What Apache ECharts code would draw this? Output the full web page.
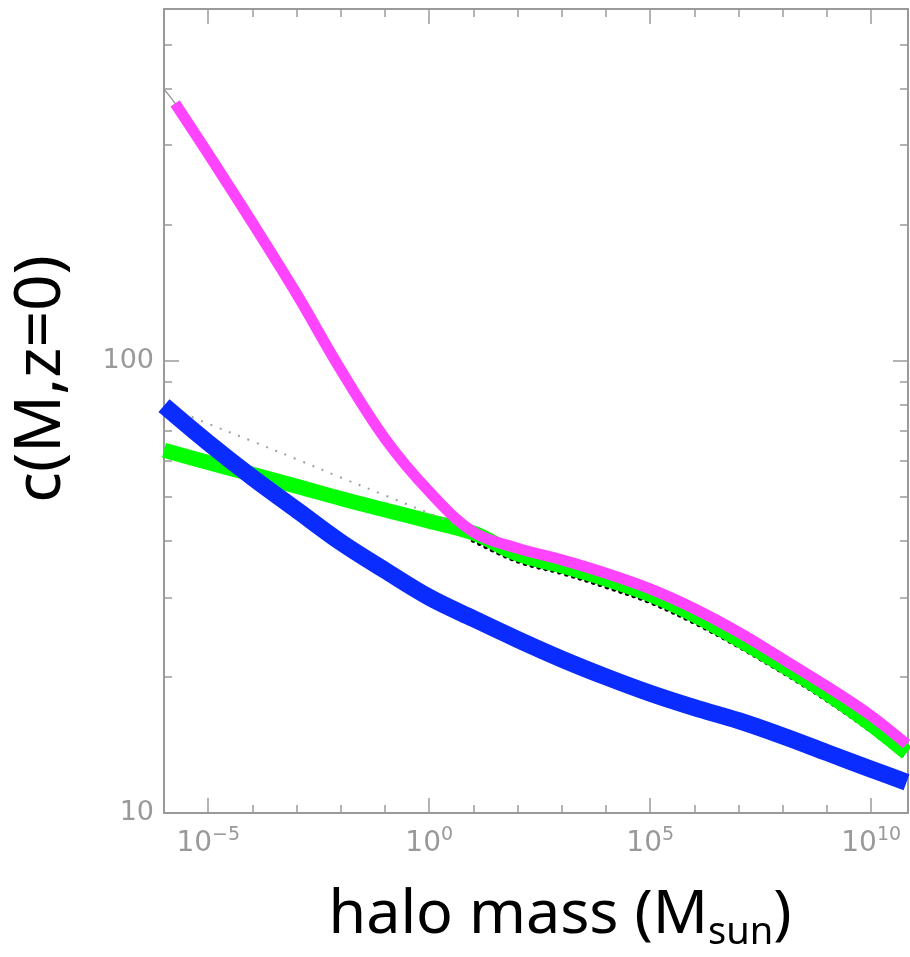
<!DOCTYPE html>
<html>
<head>
<meta charset="utf-8">
<script src="https://cdn.jsdelivr.net/npm/echarts@6/dist/echarts.min.js"></script>
<style>html,body{margin:0;padding:0;background:#fff}#c{width:910px;height:957px}</style>
</head>
<body>
<div id="c"></div>
<script>
// ---- data ----
const mass = [1e-6, 1e-5, 1e-4, 1e-3, 1e-2, 1e-1, 1, 10, 100, 1e3, 1e4, 1e5, 1e6, 1e7, 1e8, 1e9, 1e10, 6.3e10];
const blueC  = [79.6, 65.9, 55.2, 46.8, 39.7, 34.4, 30.0, 26.9, 24.2, 21.9, 20.0, 18.4, 17.1, 16.0, 14.8, 13.6, 12.5, 11.7];
const greenC = [63.4, 59.6, 56.1, 52.8, 49.6, 46.8, 44.2, 41.6, 37.4, 35.2, 32.9, 30.4, 27.4, 24.2, 21.2, 18.4, 15.7, 13.6];

const magentaMass = [1.78e-6, 1e-5, 1e-4, 1e-3, 1e-2, 1e-1, 1, 10, 100, 1e3, 1e4, 1e5, 1e6, 1e7, 1e8, 1e9, 1e10, 6.3e10];
const magentaC    = [371, 287, 202, 140.6, 95.5, 67.3, 51.4, 41.8, 38.5, 36.3, 33.9, 31.3, 28.3, 25.1, 21.9, 19.05, 16.4, 14.2];

const grayTopMass = [1e-6, 1.78e-6, 1e-5, 1e-4, 1e-3, 1e-2];
const grayTopC    = [399, 371, 287, 202, 140.6, 95.5];

const grayDotMass = [1e-6, 1e-5, 1e-4, 1e-3, 1e-2, 1e-1, 1, 10];
const grayDotC    = [79.6, 72.6, 66.4, 60.6, 55.2, 50.4, 46.0, 42.0];

const blackDotMass = [10, 100, 1e3, 1e4, 1e5, 1e6, 1e7, 1e8, 1e9, 1e10, 6.3e10];
const blackDotC    = [40.1, 36.1, 34.0, 31.7, 29.3, 26.4, 23.4, 20.5, 17.8, 15.2, 13.2];

// axis ranges and ticks
const X_MIN = 1e-6, X_MAX = 6.8e10, Y_MIN = 10, Y_MAX = 600;
const xMajorExp = [-5, 0, 5, 10];
const xMinorExp = [-4, -3, -2, -1, 1, 2, 3, 4, 6, 7, 8, 9];
const yMajor = [10, 100];
const yMinor = [20, 30, 40, 50, 60, 70, 80, 90, 200, 300, 400, 500];

const xTitle = '{a|halo mass (M}{s|sun}{a|)}';
const yTitle = 'c(M,z=0)';

// ---- build ----
const AX = '#9a9a9a';
const pairs = (xs, ys) => xs.map((x, i) => [x, ys[i]]);
const lg = v => Math.log10(v);
const supText = e => (e < 0 ? '\u2212' + (-e) : String(e));

function decoX(position, ticks, len, line, label) {
  return {
    type: 'value', gridIndex: 0, position: position,
    min: lg(X_MIN), max: lg(X_MAX),
    axisLine: { show: line, onZero: false, lineStyle: { color: AX, width: 2 } },
    axisTick: { show: true, inside: true, length: len, customValues: ticks, lineStyle: { color: AX, width: 1.5 } },
    axisLabel: label ? {
      show: true, customValues: ticks, margin: 13,
      fontSize: 28, color: '#999', fontFamily: 'DejaVu Sans',
      formatter: v => '{b|10}{s|' + supText(Math.round(v)) + '}',
      rich: {
        b: { fontSize: 28, lineHeight: 36, color: '#999', fontFamily: 'DejaVu Sans' },
        s: { fontSize: 19, lineHeight: 19, color: '#999', fontFamily: 'DejaVu Sans', verticalAlign: 'top' }
      }
    } : { show: false },
    splitLine: { show: false }
  };
}
function decoY(position, ticks, len, line, label) {
  return {
    type: 'value', gridIndex: 0, position: position,
    min: lg(Y_MIN), max: lg(Y_MAX),
    axisLine: { show: line, onZero: false, lineStyle: { color: AX, width: 2 } },
    axisTick: { show: true, inside: true, length: len, customValues: ticks.map(lg), lineStyle: { color: AX, width: 1.5 } },
    axisLabel: label ? {
      show: true, customValues: ticks.map(lg), margin: 10,
      formatter: v => String(Math.round(Math.pow(10, v))),
      fontSize: 27, color: '#999', fontFamily: 'DejaVu Sans'
    } : { show: false },
    splitLine: { show: false }
  };
}

const xAxes = [
  { type: 'log', logBase: 10, min: X_MIN, max: X_MAX, show: false, gridIndex: 0 },
  Object.assign(decoX('bottom', xMajorExp, 15, true, true), {
    name: xTitle, nameLocation: 'middle', nameGap: 67,
    nameTextStyle: {
      padding: [0, 0, 0, 48],
      rich: {
        a: { fontSize: 61, lineHeight: 72, color: '#000', fontFamily: 'Noto Sans' },
        s: { fontSize: 38, lineHeight: 38, color: '#000', fontFamily: 'Noto Sans', verticalAlign: 'bottom' }
      }
    }
  }),
  decoX('bottom', xMinorExp, 8, false, false),
  decoX('top', xMajorExp, 15, true, false),
  decoX('top', xMinorExp, 8, false, false)
];
const yAxes = [
  { type: 'log', logBase: 10, min: Y_MIN, max: Y_MAX, show: false, gridIndex: 0 },
  Object.assign(decoY('left', yMajor, 15, true, true), {
    name: yTitle, nameLocation: 'middle', nameGap: 90, nameRotate: 90,
    nameTextStyle: { fontSize: 64, color: '#000', fontFamily: 'Noto Sans', padding: [0, 0, 0, 64] }
  }),
  decoY('left', yMinor, 8, false, false),
  decoY('right', yMajor, 15, true, false),
  decoY('right', yMinor, 8, false, false)
];

function line(name, data, color, width, extra) {
  return Object.assign({
    name: name, type: 'line', xAxisIndex: 0, yAxisIndex: 0,
    data: data, showSymbol: false, symbol: 'none', smooth: 0.35, silent: true,
    lineStyle: { color: color, width: width, cap: 'butt', join: 'round' }
  }, extra || {});
}

const option = {
  animation: false,
  backgroundColor: '#fff',
  grid: { left: 164, right: 2, top: 9, bottom: 140, containLabel: false },
  xAxis: xAxes,
  yAxis: yAxes,
  series: [
    line('black dotted', pairs(blackDotMass, blackDotC), '#000', 5, { lineStyle: { color: '#000', width: 5, type: [0.1, 7], cap: 'round' } }),
    line('gray top', pairs(grayTopMass, grayTopC), '#999', 1.5),
    line('green', pairs(mass, greenC), '#00ff00', 15),
    line('gray dotted', pairs(grayDotMass, grayDotC), '#999', 2, { lineStyle: { color: '#a0a0a0', width: 2, type: [2, 8] } }),
    line('magenta', pairs(magentaMass, magentaC), '#ff44ff', 11),
    line('blue', pairs(mass, blueC), '#0a2cff', 17)
  ]
};

const chart = echarts.init(document.getElementById('c'), null, { renderer: 'canvas' });
chart.setOption(option);
</script>
</body>
</html>
